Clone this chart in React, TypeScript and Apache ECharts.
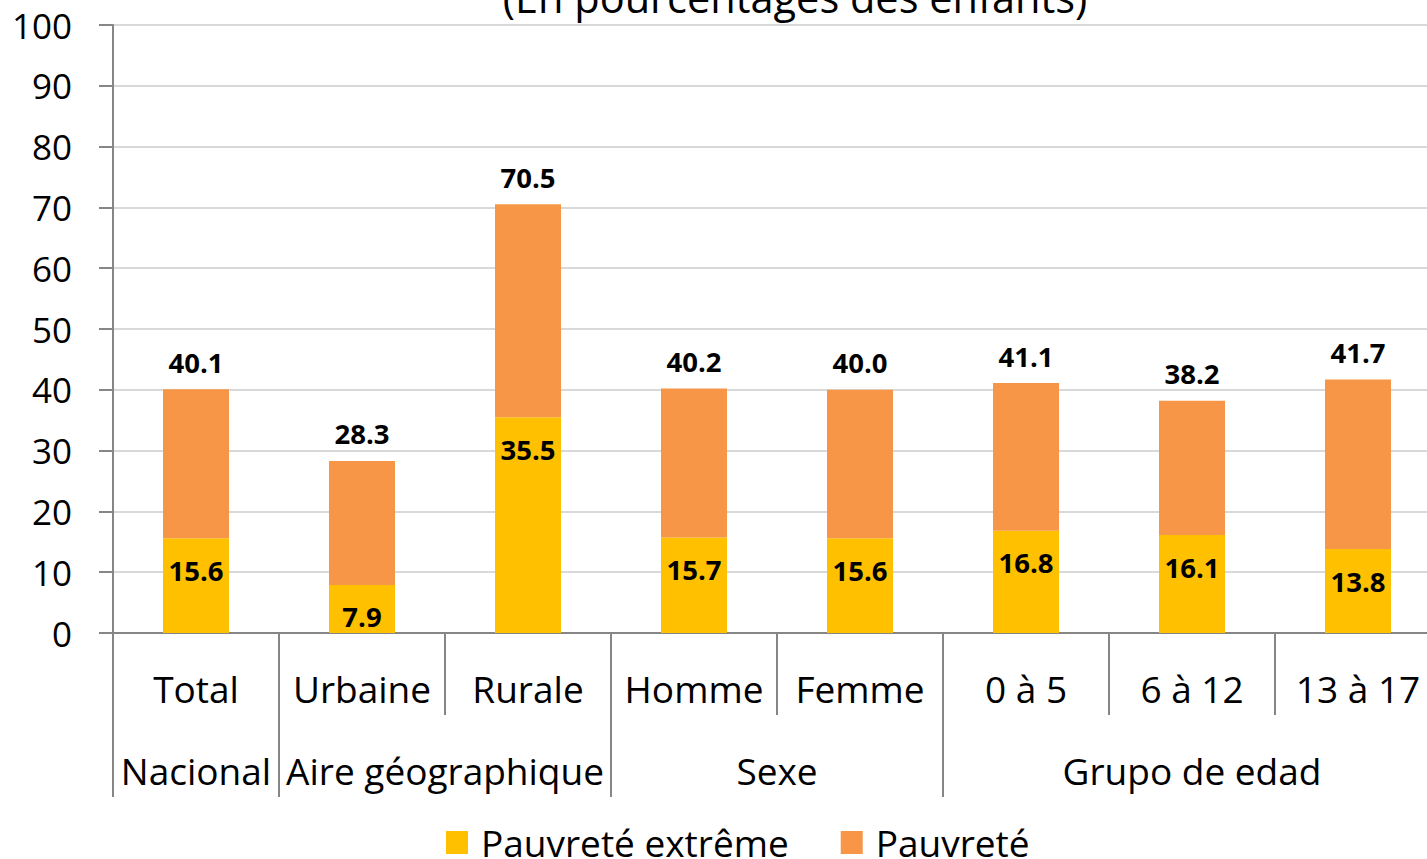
import React, { useEffect, useRef } from "react";
import * as echarts from "echarts";

const categories = ["Total", "Urbaine", "Rurale", "Homme", "Femme", "0 à 5", "6 à 12", "13 à 17"];
const groups = ["Nacional", "Aire géographique", "Sexe", "Grupo de edad"];
const groupBounds = [0, 1, 3, 5, 8];
const groupCenters = [0.5, 2, 4, 6.5];
const extremePoverty = [15.6, 7.9, 35.5, 15.7, 15.6, 16.8, 16.1, 13.8];
const totalPoverty = [40.1, 28.3, 70.5, 40.2, 40.0, 41.1, 38.2, 41.7];
const yTicks = { min: 0, max: 100, interval: 10 };
const titleText = "(En pourcentages des enfants)";
const seriesNames = ["Pauvreté extrême", "Pauvreté"];

const FONT = "'Open Sans', sans-serif";
const AXIS = "#868686";

export default function App() {
  const ref = useRef<HTMLDivElement>(null);
  useEffect(() => {
    if (!ref.current) return;
    document.body.style.margin = "0";
    document.body.style.overflow = "hidden";
    const chart = echarts.init(ref.current, undefined, { renderer: "svg" });
    const remainder = totalPoverty.map((t, i) => +(t - extremePoverty[i]).toFixed(1));
    chart.setOption({
      animation: false,
      textStyle: { fontFamily: FONT },
      graphic: [
        {
          type: "text",
          x: 795,
          y: -3,
          style: {
            text: titleText,
            fontSize: 41.5,
            fontFamily: FONT,
            fill: "#000",
            align: "center",
            verticalAlign: "middle",
          },
        },
      ],
      legend: {
        left: 441,
        top: 819,
        itemWidth: 22,
        itemHeight: 23,
        itemGap: 52,
        icon: "rect",
        textStyle: { fontSize: 37, color: "#000", fontFamily: FONT, padding: [0, 0, 0, 8] },
        data: seriesNames,
      },
      grid: { left: 113, top: 25, right: 9, bottom: 226, containLabel: false },
      xAxis: [
        {
          type: "category",
          data: categories,
          axisLine: { lineStyle: { color: AXIS, width: 2 } },
          axisTick: { show: true, length: 82, lineStyle: { color: AXIS, width: 2 } },
          axisLabel: { fontSize: 37, color: "#000", fontFamily: FONT, margin: 37, interval: 0 },
        },
        {
          type: "value",
          position: "bottom",
          min: 0,
          max: 8,
          axisLine: { show: false },
          splitLine: { show: false },
          axisTick: {
            show: true,
            length: 164,
            customValues: groupBounds,
            lineStyle: { color: AXIS, width: 2 },
          },
          axisLabel: {
            show: true,
            customValues: groupCenters,
            fontSize: 37,
            color: "#000",
            fontFamily: FONT,
            margin: 119,
            formatter: (v: number) => groups[groupCenters.indexOf(v)] ?? "",
          },
        },
      ],
      yAxis: {
        type: "value",
        min: yTicks.min,
        max: yTicks.max,
        interval: yTicks.interval,
        axisLine: { show: true, lineStyle: { color: AXIS, width: 2 } },
        axisTick: { show: true, length: 14, lineStyle: { color: AXIS, width: 2 } },
        splitLine: { lineStyle: { color: "#D9D9D9", width: 2 } },
        axisLabel: { fontSize: 35, color: "#000", fontFamily: FONT, margin: 41 },
      },
      series: [
        {
          name: seriesNames[0],
          type: "bar",
          stack: "p",
          barWidth: 66,
          data: extremePoverty,
          itemStyle: { color: "#FFC000" },
          label: {
            show: true,
            position: "insideTop",
            distance: 18,
            fontSize: 27.5,
            fontWeight: "bold",
            color: "#000",
            fontFamily: FONT,
            formatter: (p: any) => extremePoverty[p.dataIndex].toFixed(1),
          },
        },
        {
          name: seriesNames[1],
          type: "bar",
          stack: "p",
          barWidth: 66,
          data: remainder,
          itemStyle: { color: "#F79646" },
          label: {
            show: true,
            position: "top",
            distance: 13,
            fontSize: 27.5,
            fontWeight: "bold",
            color: "#000",
            fontFamily: FONT,
            formatter: (p: any) => totalPoverty[p.dataIndex].toFixed(1),
          },
        },
      ],
    });
    return () => chart.dispose();
  }, []);
  return (
    <div
      ref={ref}
      style={{ position: "fixed", left: 0, top: 0, width: 1450, height: 859, background: "#fff" }}
    />
  );
}
